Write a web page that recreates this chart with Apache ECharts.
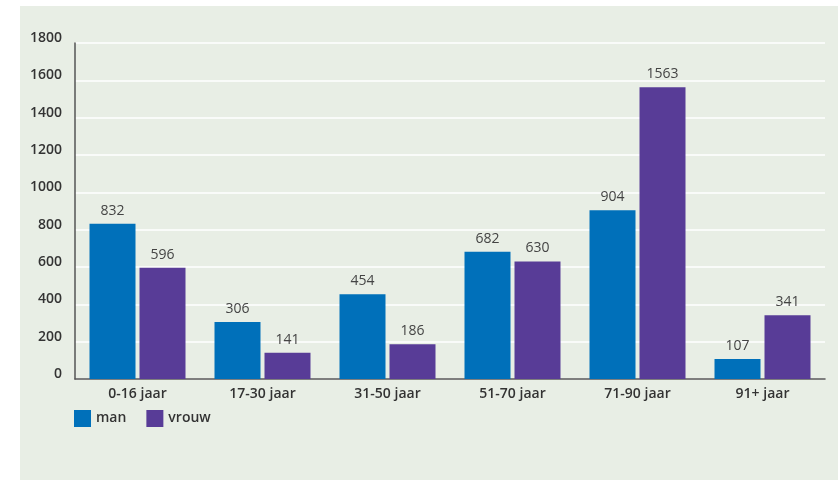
<!DOCTYPE html>
<html><head><meta charset="utf-8">
<script src="https://cdn.jsdelivr.net/npm/echarts@6/dist/echarts.min.js"></script>
<style>html,body{margin:0;padding:0;background:#fff;}#wrap{position:absolute;left:20px;top:6px;width:818px;height:474px;background:#E8EEE5;}#c{position:absolute;left:0;top:0;width:838px;height:480px;}</style>
</head><body><div id="wrap"></div><div id="c"></div>
<script>
const categories = ['0-16 jaar','17-30 jaar','31-50 jaar','51-70 jaar','71-90 jaar','91+ jaar'];
const man = [832, 306, 454, 682, 904, 107];
const vrouw = [596, 141, 186, 630, 1563, 341];
const seriesNames = ['man','vrouw'];
const yTicks = {min:0, max:1800, interval:200};

const font = "'Open Sans', 'DejaVu Sans', sans-serif";
const chart = echarts.init(document.getElementById('c'));
chart.setOption({
  animation:false,
  grid:{left:75, right:13, top:43, bottom:101},
  legend:{
    left:69, top:405, itemWidth:17, itemHeight:17, itemGap:20,
    icon:'rect',
    textStyle:{fontFamily:font, fontSize:14, color:'#333', fontWeight:600},
    data:seriesNames
  },
  xAxis:{
    type:'category', data:categories,
    axisLine:{lineStyle:{color:'#555', width:1.5}},
    axisTick:{inside:true, length:9, lineStyle:{color:'#555'}},
    axisLabel:{fontFamily:font, fontSize:14, fontWeight:600, color:'#333', margin:8}
  },
  yAxis:{
    type:'value', min:yTicks.min, max:yTicks.max, interval:yTicks.interval,
    axisLine:{show:true, lineStyle:{color:'#555', width:1.5}},
    axisTick:{show:false},
    splitLine:{lineStyle:{color:'#ffffff', width:1.5}},
    axisLabel:{fontFamily:font, fontSize:14, fontWeight:600, color:'#333', margin:13,
      verticalAlign:'bottom', lineHeight:10, formatter:function(v){return String(v);}}
  },
  series:[
    {name:seriesNames[0], type:'bar', data:man, barWidth:46, barGap:'8.7%',
     itemStyle:{color:'#0070BA'},
     label:{show:true, position:'top', distance:6, fontFamily:font, fontSize:14, color:'#444'}},
    {name:seriesNames[1], type:'bar', data:vrouw, barWidth:46,
     itemStyle:{color:'#583C97'},
     label:{show:true, position:'top', distance:6, fontFamily:font, fontSize:14, color:'#444'}}
  ]
});
</script></body></html>
